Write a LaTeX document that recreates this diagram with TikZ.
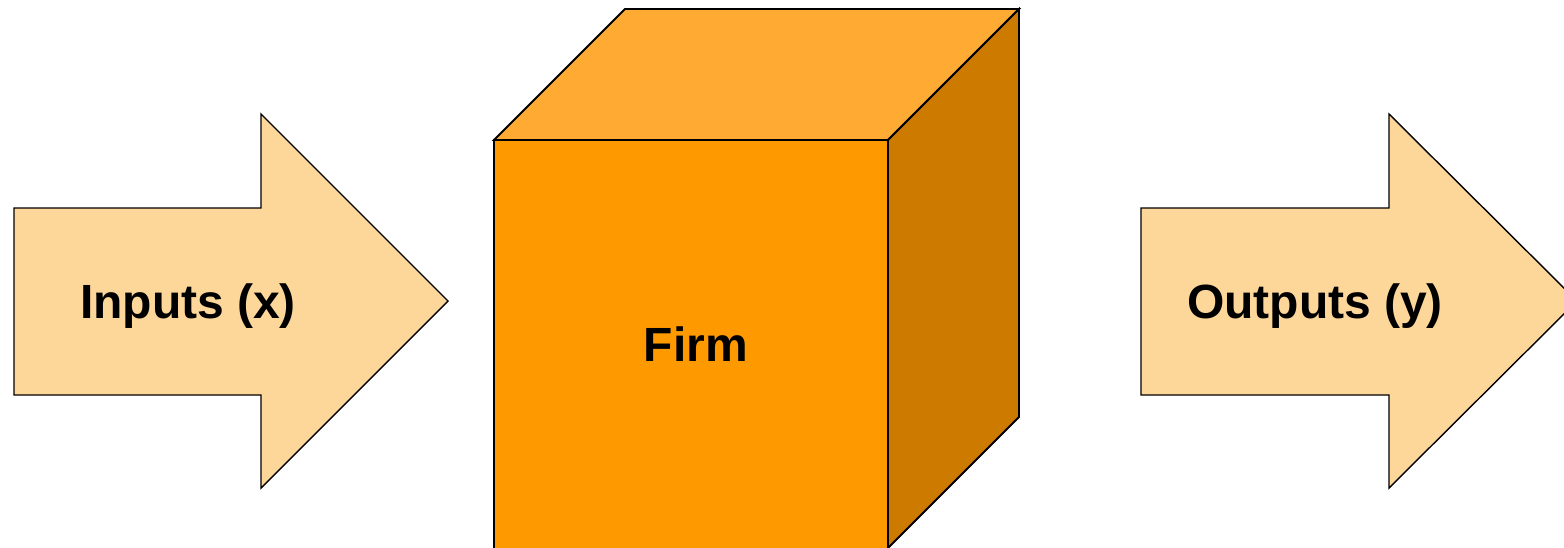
\documentclass[tikz,border=0pt]{standalone}
\usepackage{fontspec}
\setmainfont{Liberation Sans}
\definecolor{arrowfill}{HTML}{FDD69A}
\definecolor{cubefront}{HTML}{FF9900}
\definecolor{cubetop}{HTML}{FFAB33}
\definecolor{cubeside}{HTML}{CC7A00}
\begin{document}
\begin{tikzpicture}[x=1pt,y=-1pt,
  bigarrow/.style={fill=arrowfill,draw=black,line width=1.4pt,line join=miter},
  face/.style={draw=black,line width=1.8pt,line join=miter},
  lbl/.style={font=\fontsize{48}{58}\selectfont\bfseries,inner sep=0pt,anchor=base}]
\useasboundingbox (0,0) rectangle (1564,547);
\clip (0,0) rectangle (1564,547);
% left arrow
\draw[bigarrow] (14,208) -- (261,208) -- (261,114) -- (448,301) -- (261,488) -- (261,395) -- (14,395) -- cycle;
% right arrow
\draw[bigarrow] (1141,208) -- (1389,208) -- (1389,114) -- (1577,301) -- (1389,488) -- (1389,395) -- (1141,395) -- cycle;
% cube
\draw[face,fill=cubefront] (494,140) rectangle (888,560);
\draw[face,fill=cubetop] (494,140) -- (625,9) -- (1019,9) -- (888,140) -- cycle;
\draw[face,fill=cubeside] (888,140) -- (1019,9) -- (1019,417) -- (888,548) -- cycle;
% labels
\node[lbl] (inputs) at (188,318) {Inputs (x)};
\node[lbl] (firm) at (696,361) {Firm};
\node[lbl] (outputs) at (1315,318) {Outputs (y)};
\end{tikzpicture}
\end{document}
